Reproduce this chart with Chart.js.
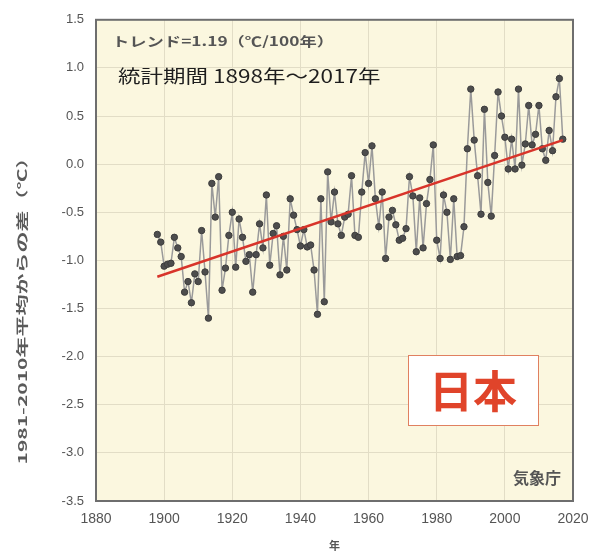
<!DOCTYPE html>
<html>
<head>
<meta charset="utf-8">
<script src="https://cdn.jsdelivr.net/npm/chart.js@4"></script>
<style>
  body { margin: 0; background: #fff; }
  #wrap { width: 600px; height: 552px; }
</style>
</head>
<body>
<div id="wrap"><canvas id="tempChart" width="600" height="552"></canvas></div>
<script>
// 日本の年平均気温偏差 (1981-2010年平均からの差)
const startYear = 1898;
const anomalies = [
  -0.73, -0.81, -1.06, -1.04, -1.03, -0.76, -0.87, -0.96, -1.33, -1.22, // 1898-1907
  -1.44, -1.14, -1.22, -0.69, -1.12, -1.60, -0.20, -0.55, -0.13, -1.31, // 1908-1917
  -1.08, -0.74, -0.50, -1.07, -0.57, -0.76, -1.01, -0.94, -1.33, -0.94, // 1918-1927
  -0.62, -0.87, -0.32, -1.05, -0.72, -0.64, -1.15, -0.75, -1.10, -0.36, // 1928-1937
  -0.53, -0.68, -0.85, -0.68, -0.86, -0.84, -1.10, -1.56, -0.36, -1.43, // 1938-1947
  -0.08, -0.60, -0.29, -0.62, -0.74, -0.55, -0.52, -0.12, -0.74, -0.76, // 1948-1957
  -0.29,  0.12, -0.20,  0.19, -0.36, -0.65, -0.29, -0.98, -0.55, -0.48, // 1958-1967
  -0.63, -0.79, -0.77, -0.67, -0.13, -0.33, -0.91, -0.35, -0.87, -0.41, // 1968-1977
  -0.16,  0.20, -0.79, -0.98, -0.32, -0.50, -0.99, -0.36, -0.96, -0.95, // 1978-1987
  -0.65,  0.16,  0.78,  0.25, -0.12, -0.52,  0.57, -0.19, -0.54,  0.09, // 1988-1997
   0.75,  0.50,  0.28, -0.05,  0.26, -0.05,  0.78, -0.01,  0.21,  0.61, // 1998-2007
   0.20,  0.31,  0.61,  0.16,  0.04,  0.35,  0.14,  0.70,  0.89,  0.26  // 2008-2017
];
const trendYears = [1898, 2017];
const trendValues = [-1.17, 0.25];
const xTicks = [1880, 1900, 1920, 1940, 1960, 1980, 2000, 2020];
const yTicks = [1.5, 1.0, 0.5, 0.0, -0.5, -1.0, -1.5, -2.0, -2.5, -3.0, -3.5];

const seriesPoints = anomalies.map((v, i) => ({ x: startYear + i, y: v }));
const trendPoints = trendYears.map((yr, i) => ({ x: yr, y: trendValues[i] }));

const jpFont = '"Noto Sans CJK JP", "Noto Sans", sans-serif';

// 横に伸ばした文字を書く (元図の字形が横長なので)
function stretchedText(ctx, text, x, y, sx, align) {
  ctx.save();
  ctx.translate(x, y);
  ctx.scale(sx, 1);
  ctx.textAlign = align || 'left';
  ctx.fillText(text, 0, 0);
  ctx.restore();
}

// 描画領域の背景と枠、注記テキスト
const decorations = {
  id: 'decorations',
  beforeDraw(chart) {
    const { ctx, chartArea: a } = chart;
    ctx.save();
    ctx.fillStyle = '#fbf7df';
    ctx.fillRect(a.left, a.top, a.right - a.left, a.bottom - a.top);
    ctx.restore();
  },
  afterDraw(chart) {
    const { ctx, chartArea: a } = chart;
    ctx.save();
    ctx.strokeStyle = '#6e6e6e';
    ctx.lineWidth = 2;
    ctx.strokeRect(a.left, a.top, a.right - a.left, a.bottom - a.top);
    ctx.textBaseline = 'middle';

    ctx.fillStyle = '#555';
    ctx.font = 'bold 13px ' + jpFont;
    stretchedText(ctx, 'トレンド=1.19（℃/100年）', a.left + 16, 41, 1.33);

    ctx.fillStyle = '#1e1e1e';
    ctx.font = '18px ' + jpFont;
    stretchedText(ctx, '統計期間 1898年～2017年', a.left + 22, 76, 1.25);

    ctx.fillStyle = '#555';
    ctx.font = 'bold 16px ' + jpFont;
    stretchedText(ctx, '気象庁', a.right - 12, 478, 1.0, 'right');

    // 縦軸タイトル
    ctx.save();
    ctx.translate(22, 306);
    ctx.rotate(-Math.PI / 2);
    ctx.font = 'bold 12px ' + jpFont;
    ctx.fillStyle = '#5a5a5a';
    stretchedText(ctx, '1981-2010年平均からの差（℃）', 0, 0, 1.75, 'center');
    ctx.restore();

    // 日本 ラベル
    ctx.fillStyle = '#ffffff';
    ctx.fillRect(408, 355, 130, 70);
    ctx.strokeStyle = '#e08060';
    ctx.lineWidth = 1;
    ctx.strokeRect(408.5, 355.5, 130, 70);
    ctx.fillStyle = '#e0442a';
    ctx.font = 'bold 44px ' + jpFont;
    ctx.textAlign = 'center';
    ctx.fillText('日本', 473, 391);
    ctx.restore();
  }
};

const ctx = document.getElementById('tempChart').getContext('2d');
const tempChart = new Chart(ctx, {
  type: 'scatter',
  data: {
    datasets: [
      {
        label: 'トレンド',
        data: trendPoints,
        showLine: true,
        borderColor: '#d8342a',
        borderWidth: 2.5,
        pointRadius: 0,
        order: 0
      },
      {
        label: '年平均気温偏差',
        data: seriesPoints,
        showLine: true,
        borderColor: '#9a9a9a',
        borderWidth: 1.5,
        pointRadius: 3.2,
        pointBackgroundColor: '#4d4d4d',
        pointBorderColor: '#3d3d3d',
        pointBorderWidth: 1,
        order: 1
      }
    ]
  },
  options: {
    responsive: false,
    animation: false,
    layout: { padding: { top: 17, right: 27, left: 0, bottom: 0 } },
    plugins: {
      legend: { display: false },
      tooltip: { enabled: false }
    },
    scales: {
      x: {
        type: 'linear',
        min: 1880,
        max: 2020,
        afterBuildTicks: (scale) => { scale.ticks = xTicks.map(v => ({ value: v })); },
        afterFit: (scale) => { scale.height = 51; },
        grid: { color: '#e2ddc6', lineWidth: 1, drawTicks: false },
        border: { display: false },
        ticks: {
          color: '#555',
          font: { family: 'Liberation Sans, sans-serif', size: 14 },
          padding: 10,
          maxRotation: 0,
          callback: (v) => String(v)
        },
        title: {
          display: true,
          text: '年',
          color: '#555',
          font: { family: jpFont, size: 11, weight: 'bold' },
          padding: { top: 3, bottom: 0 }
        }
      },
      y: {
        min: -3.5,
        max: 1.5,
        afterBuildTicks: (scale) => { scale.ticks = yTicks.map(v => ({ value: v })); },
        afterFit: (scale) => { scale.width = 96; },
        grid: { color: '#e2ddc6', lineWidth: 1, drawTicks: false },
        border: { display: false },
        ticks: {
          color: '#555',
          font: { family: 'Liberation Sans, sans-serif', size: 13 },
          padding: 12,
          callback: (v) => v.toFixed(1)
        }
      }
    }
  },
  plugins: [decorations]
});
</script>
</body>
</html>
